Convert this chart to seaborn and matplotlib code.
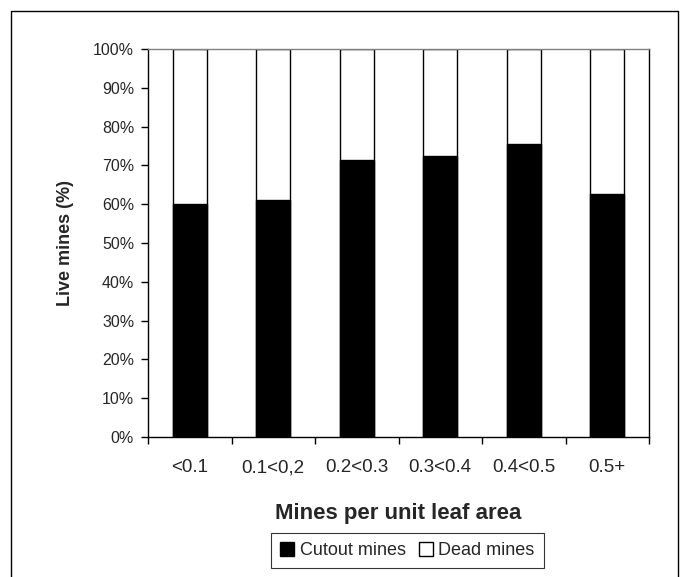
import numpy as np
import pandas as pd
import matplotlib
matplotlib.use("Agg")
import matplotlib.pyplot as plt
from matplotlib.lines import Line2D
from matplotlib.ticker import PercentFormatter
import seaborn as sns

# values (percent of live mines)
categories = ["<0.1", "0.1<0,2", "0.2<0.3", "0.3<0.4", "0.4<0.5", "0.5+"]
cutout = [60.0, 61.1, 71.3, 72.3, 75.4, 62.6]
dead = [100 - v for v in cutout]

df = pd.DataFrame({"cat": categories, "cutout": cutout, "dead": dead})
df["total"] = df["cutout"] + df["dead"]

sns.set_style("white")
plt.rcParams["font.family"] = ["Liberation Sans", "DejaVu Sans"]

fig = plt.figure(figsize=(6.8, 5.77), dpi=100)
ax = fig.add_axes([148 / 680, 1 - 437 / 577, 501 / 680, 388 / 577])

# stacked: white total bar behind, black cutout bar on top
sns.barplot(data=df, x="cat", y="total", color="white", edgecolor="black",
            linewidth=1, width=0.41, saturation=1, ax=ax)
sns.barplot(data=df, x="cat", y="cutout", color="black", edgecolor="black",
            linewidth=1, width=0.41, saturation=1, ax=ax)

ax.set_xlim(-0.5, len(categories) - 0.5)
ax.set_ylim(0, 100)
ax.set_yticks(np.arange(0, 101, 10))
ax.yaxis.set_major_formatter(PercentFormatter(decimals=0))

# ticks between categories, labels under the bars
ax.set_xticks(np.arange(-0.5, len(categories), 1))
ax.set_xticklabels([])
ax.set_xticks(np.arange(len(categories)), minor=True)
ax.set_xticklabels(categories, minor=True)
ax.tick_params(axis="x", which="major", length=5, width=1, color="black", direction="out", bottom=True)
ax.tick_params(axis="x", which="minor", length=0, pad=16, labelsize=13.5)
ax.tick_params(axis="y", length=5, width=1, color="black", direction="out", left=True, labelsize=11.5, pad=5)

for s in ax.spines.values():
    s.set_visible(True)
    s.set_color("black")
    s.set_linewidth(1)
ax.spines["top"].set_color("#808080")

ax.set_xlabel("Mines per unit leaf area", fontsize=16, fontweight="bold", labelpad=19)
ax.set_ylabel("Live mines (%)", fontsize=13, fontweight="bold", labelpad=14)

handles = [
    Line2D([], [], marker="s", linestyle="none", markersize=10,
           markerfacecolor="black", markeredgecolor="black", label="Cutout mines"),
    Line2D([], [], marker="s", linestyle="none", markersize=10,
           markerfacecolor="white", markeredgecolor="black", label="Dead mines"),
]
leg = fig.legend(handles=handles, loc="upper left", ncol=2,
                 bbox_to_anchor=(271 / 680, 1 - 533 / 577), fontsize=13,
                 frameon=True, fancybox=False, handlelength=0.8, handletextpad=0.3,
                 columnspacing=0.7, borderpad=0.5, borderaxespad=0)
leg.get_frame().set_edgecolor("black")
leg.get_frame().set_linewidth(0.8)

# outer chart border
fig.add_artist(Line2D([11 / 680, 11 / 680, 678 / 680, 678 / 680],
                      [0, 1 - 11 / 577, 1 - 11 / 577, 0],
                      transform=fig.transFigure, color="black", linewidth=1))

fig.savefig("out.png", dpi=100)
